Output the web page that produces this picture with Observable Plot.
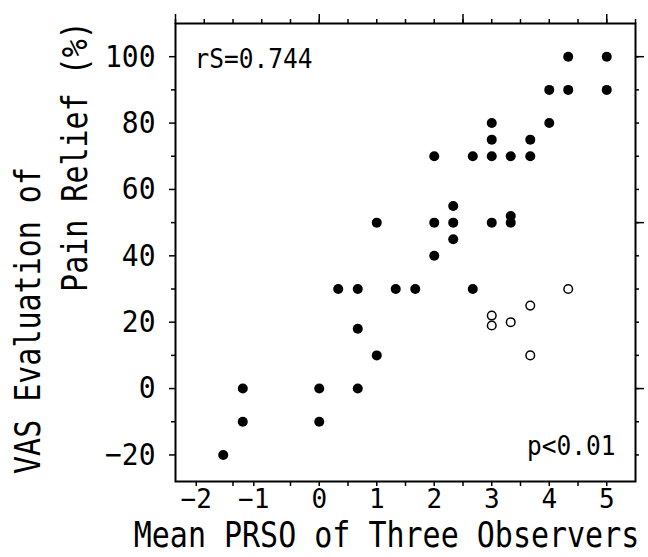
<!DOCTYPE html>
<html>
<head>
<meta charset="utf-8">
<script src="https://cdn.jsdelivr.net/npm/d3@7"></script>
<script src="https://cdn.jsdelivr.net/npm/@observablehq/plot@0.6"></script>
<style>
  html, body { margin: 0; padding: 0; background: white; }
  #chart { width: 648px; height: 557px; }
</style>
</head>
<body>
<div id="chart"></div>
<script>
// Filled circles
const filledX = [4.33, 5, 4, 4.33, 5, 4, 3, 3, 3.67, 2, 2.67, 3, 3.33, 3.67,
                 2.33, 1, 2, 2.33, 3, 3.33, 3.33, 2.33, 2,
                 0.33, 0.67, 1.33, 1.67, 2.67, 0.67, 1,
                 -1.33, 0, 0.67, -1.33, 0, -1.67];
const filledY = [100, 100, 90, 90, 90, 80, 80, 75, 75, 70, 70, 70, 70, 70,
                 55, 50, 50, 50, 50, 52, 50, 45, 40,
                 30, 30, 30, 30, 30, 18, 10,
                 0, 0, 0, -10, -10, -20];
// Open circles
const openX = [4.33, 3.67, 3, 3, 3.33, 3.67];
const openY = [30, 25, 22, 19, 20, 10];

// Axis ticks
const xLabelTicksPos = [0, 1, 2, 3, 4, 5];
const xLabelTicksNeg = [-2, -1];
const xMinorTicks = [-1.5, -0.5, 0.5, 1.5, 2.5, 3.5, 4.5];
const xTopTicks = [-2.5, -2, -1.5, -1, -0.5, 0, 0.5, 1, 1.5, 2, 2.5, 3, 3.5, 4, 4.5, 5, 5.5];
const xTopMajor = [-2.5, 0, 2.5, 5];
const yLabelTicks = [-20, 0, 20, 40, 60, 80, 100];
const yMinorTicks = [-10, 10, 30, 50, 70, 90];
const yRightTicks = [-20, -10, 0, 10, 20, 30, 40, 50, 60, 70, 80, 90, 100];
const yRightMajor = [0, 50, 100];

const xTitle = "Mean PRSO of Three Observers";
const yTitle1 = "VAS Evaluation of";
const yTitle2 = "Pain Relief (%)";
const annot1 = "rS=0.744";
const annot2 = "p<0.01";

const filled = filledX.map((x, i) => ({x, y: filledY[i]}));
const open = openX.map((x, i) => ({x, y: openY[i]}));
const blank = () => "";

const chart = Plot.plot({
  width: 648,
  height: 557,
  marginLeft: 175,
  marginRight: 13,
  marginTop: 23,
  marginBottom: 76,
  style: {background: "white", color: "black", fontFamily: "DejaVu Sans Mono"},
  x: {domain: [-2.5, 5.5], label: null},
  y: {domain: [-28, 110], label: null},
  marks: [
    Plot.frame({stroke: "black", strokeWidth: 2}),
    // left axis
    Plot.axisY(yLabelTicks, {anchor: "left", tickSize: 6, tickPadding: 14, fontSize: 28, strokeWidth: 1.5, label: null}),
    Plot.axisY(yMinorTicks, {anchor: "left", tickSize: 4, tickFormat: blank, strokeWidth: 1.5, label: null}),
    // right axis
    Plot.axisY(yRightTicks, {anchor: "right", tickSize: 3, tickFormat: blank, strokeWidth: 1.5, label: null}),
    Plot.axisY(yRightMajor, {anchor: "right", tickSize: 8, tickFormat: blank, strokeWidth: 1.5, label: null}),
    // bottom axis
    Plot.axisX(xLabelTicksPos, {anchor: "bottom", tickSize: 5, tickPadding: 3, fontSize: 26, strokeWidth: 1.5, label: null}),
    Plot.axisX(xLabelTicksNeg, {anchor: "bottom", tickSize: 5, tickPadding: 3, fontSize: 26, dx: -8, strokeWidth: 1.5, label: null}),
    Plot.axisX(xMinorTicks, {anchor: "bottom", tickSize: 5, tickFormat: blank, strokeWidth: 1.5, label: null}),
    // top axis
    Plot.axisX(xTopTicks, {anchor: "top", tickSize: 5, tickFormat: blank, strokeWidth: 1.5, label: null}),
    Plot.axisX(xTopMajor, {anchor: "top", tickSize: 10, tickFormat: blank, strokeWidth: 1.5, label: null}),
    // points
    Plot.dot(filled, {x: "x", y: "y", r: 5, fill: "black", stroke: "none"}),
    Plot.dot(open, {x: "x", y: "y", r: 4.3, fill: "white", stroke: "black", strokeWidth: 1.5}),
    // annotations
    Plot.text([annot1], {text: d => d, frameAnchor: "top-left", textAnchor: "start", lineAnchor: "middle", dx: 19, dy: 36, fontSize: 24.5}),
    Plot.text([annot2], {text: d => d, frameAnchor: "bottom-right", textAnchor: "end", lineAnchor: "middle", dx: -20, dy: -35, fontSize: 24.5}),
    // titles
    Plot.text([xTitle], {text: d => d, frameAnchor: "bottom", textAnchor: "middle", lineAnchor: "middle", dx: -19, dy: 54, fontSize: 30}),
    Plot.text([yTitle1], {text: d => d, frameAnchor: "left", textAnchor: "middle", lineAnchor: "middle", rotate: -90, dx: -147, dy: 68, fontSize: 30}),
    Plot.text([yTitle2], {text: d => d, frameAnchor: "left", textAnchor: "middle", lineAnchor: "middle", rotate: -90, dx: -100, dy: -96, fontSize: 30})
  ]
});

// stretch some text vertically a little to mimic the narrow plotter font
chart.querySelectorAll("text").forEach(t => {
  const holder = t.closest("[font-size]");
  const fs = holder ? parseFloat(holder.getAttribute("font-size")) : 26;
  const k = fs >= 30 ? 1.2 : fs === 26 ? 1.0 : 1.1;
  if (k === 1) return;
  const tr = t.getAttribute("transform") || "";
  t.setAttribute("transform", tr + ` scale(1,${k})`);
});

document.getElementById("chart").appendChild(chart);
</script>
</body>
</html>
